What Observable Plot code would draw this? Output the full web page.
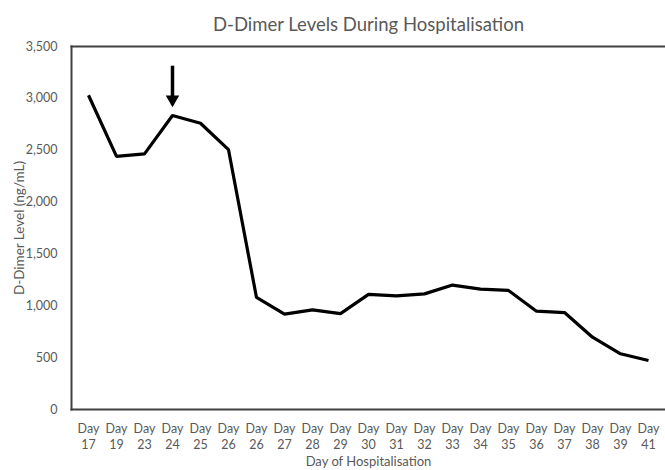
<!DOCTYPE html>
<html>
<head>
<meta charset="utf-8">
<script src="https://cdn.jsdelivr.net/npm/d3@7"></script>
<script src="https://cdn.jsdelivr.net/npm/@observablehq/plot@0.6"></script>
<style>
  html, body { margin: 0; padding: 0; background: #fff; }
  #chart { width: 665px; height: 470px; }
</style>
</head>
<body>
<div id="chart"></div>
<script>
const title = "D-Dimer Levels During Hospitalisation";
const xLabel = "Day of Hospitalisation";
const yLabel = "D-Dimer Level (ng/mL)";
const days = ["Day 17","Day 19","Day 23","Day 24","Day 25","Day 26","Day 26","Day 27","Day 28","Day 29","Day 30","Day 31","Day 32","Day 33","Day 34","Day 35","Day 36","Day 37","Day 38","Day 39","Day 41"];
const dimer = [3030, 2440, 2465, 2835, 2760, 2505, 1080, 920, 960, 925, 1110, 1095, 1115, 1200, 1160, 1148, 948, 935, 697, 537, 472];
const yTicks = [0, 500, 1000, 1500, 2000, 2500, 3000, 3500];
const arrowDayIndex = [3];
const arrowTop = [3310];
const arrowHeadCenter = [2990];

const data = days.map((d, i) => ({i, day: d, value: dimer[i]}));
const gray = "#595959";

const chart = Plot.plot({
  width: 665,
  height: 470,
  marginTop: 46,
  marginBottom: 61,
  marginLeft: 71,
  marginRight: 0,
  style: {fontFamily: "Lato, 'Open Sans', sans-serif", fontSize: "12px", color: gray, background: "#fff"},
  x: {type: "band", domain: d3.range(days.length), padding: 0, align: 0.5},
  y: {domain: [0, 3500]},
  marks: [
    Plot.axisY({ticks: yTicks, tickSize: 0, tickPadding: 14, tickFormat: d => d.toLocaleString("en-US"), label: null, fontSize: 12.5}),
    Plot.axisX({tickSize: 0, tickPadding: 12, tickFormat: i => days[i].replace(" ", "\n"), label: null, fontSize: 12.5, lineHeight: 1.3}),
    Plot.frame({anchor: "left", stroke: "#404040", strokeWidth: 2}),
    Plot.frame({anchor: "top", stroke: "#404040", strokeWidth: 2}),
    Plot.frame({anchor: "bottom", stroke: "#404040", strokeWidth: 2}),
    Plot.lineY(data, {x: "i", y: "value", stroke: "#000", strokeWidth: 3.2, strokeLinejoin: "miter", strokeLinecap: "butt"}),
    Plot.ruleX(arrowDayIndex, {x: d => d, y1: () => arrowTop[0], y2: () => arrowHeadCenter[0], stroke: "#000", strokeWidth: 3.5}),
    Plot.dot(arrowDayIndex, {x: d => d, y: () => arrowHeadCenter[0], symbol: "triangle", rotate: 180, r: 5, fill: "#000", stroke: "none"}),
    Plot.text([title], {frameAnchor: "top", dy: -29, text: d => d, fontSize: 18.5, fill: gray}),
    Plot.text([xLabel], {frameAnchor: "bottom", dy: 56, text: d => d, fontSize: 13, fill: gray}),
    Plot.text([yLabel], {frameAnchor: "left", textAnchor: "middle", dx: -52, rotate: -90, text: d => d, fontSize: 13.5, fill: gray})
  ]
});
document.getElementById("chart").appendChild(chart);
</script>
</body>
</html>
